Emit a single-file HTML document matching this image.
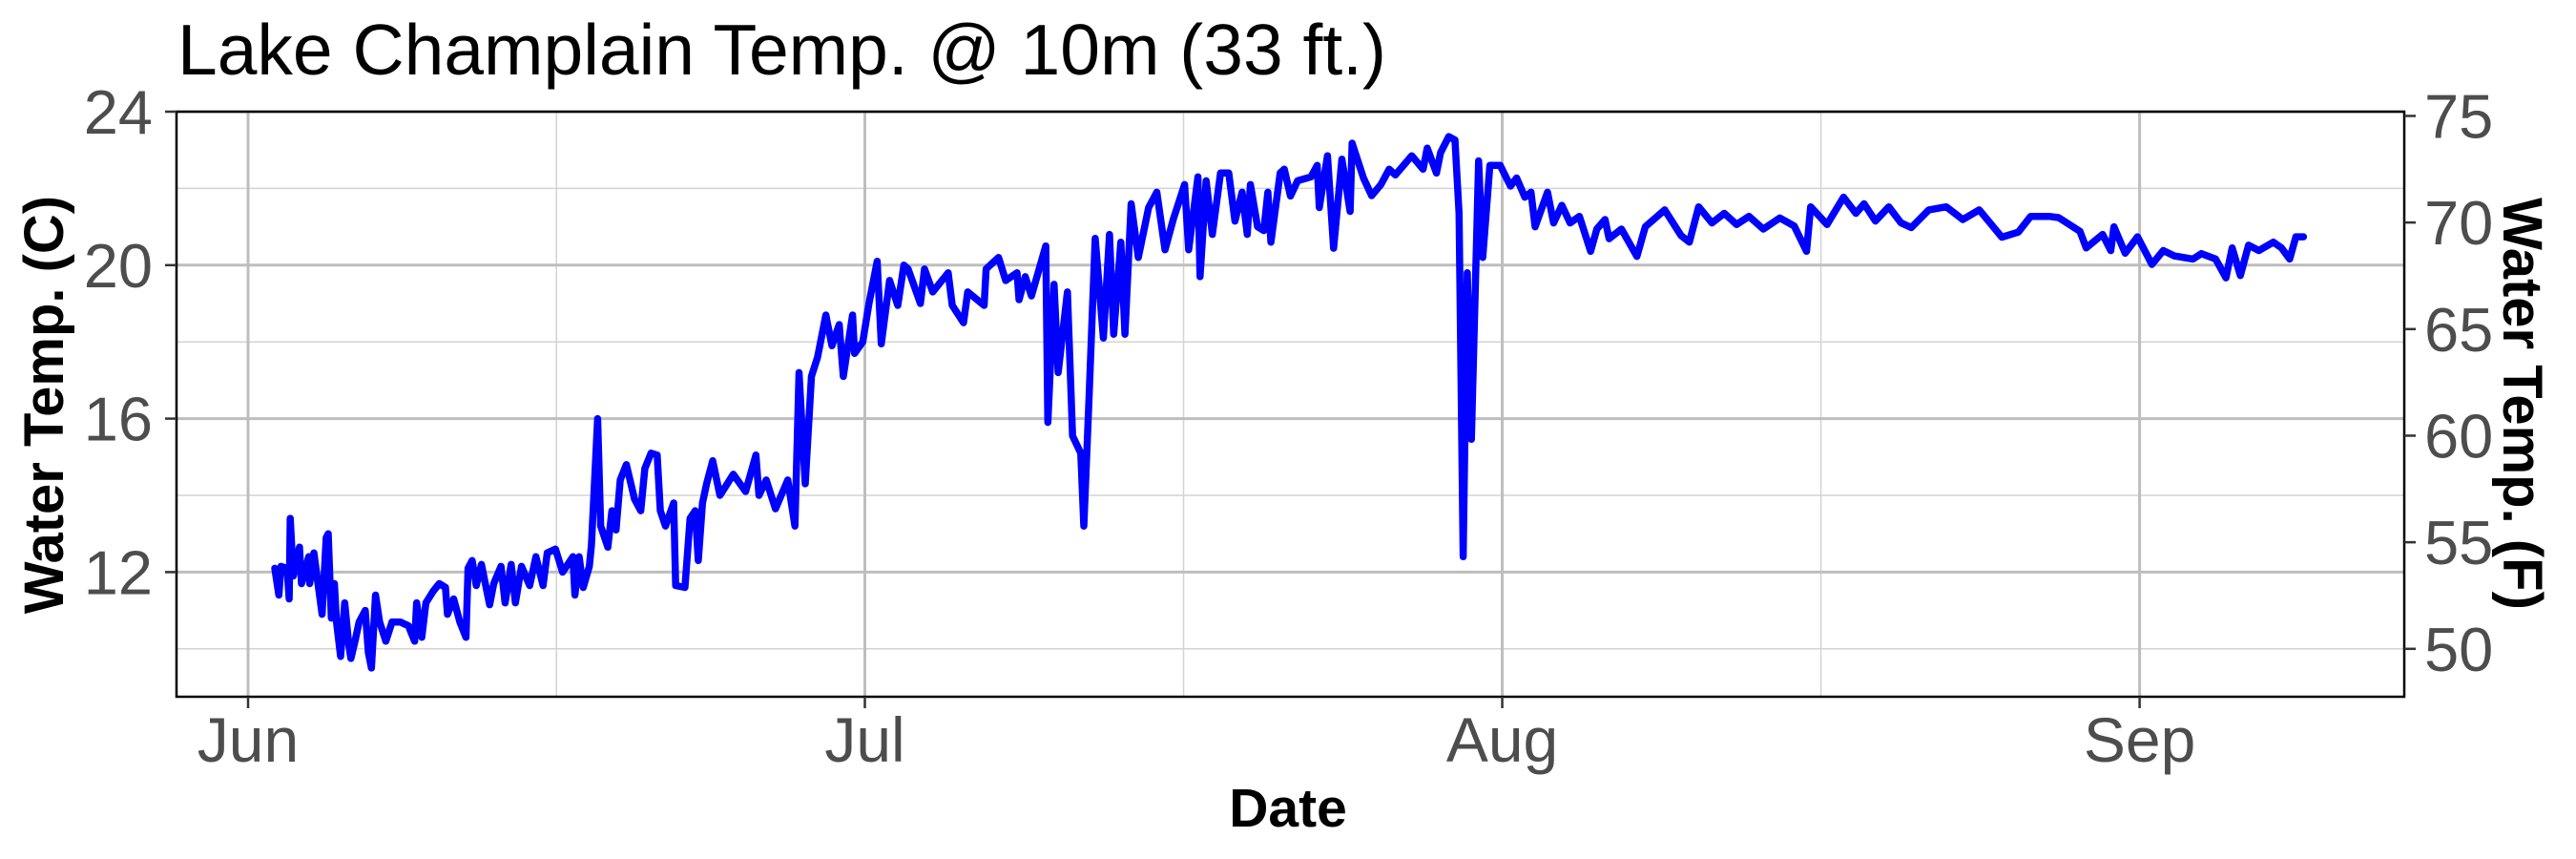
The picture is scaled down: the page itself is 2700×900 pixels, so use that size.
<!DOCTYPE html>
<html><head><meta charset="utf-8">
<style>
html,body{margin:0;padding:0;background:#fff;}
svg{display:block;font-family:"Liberation Sans",Arial,sans-serif;}
</style></head>
<body>
<svg id="chart" width="2700" height="900" viewBox="0 0 2700 900">
  <text x="186" y="78" font-size="75" fill="#000">Lake Champlain Temp. @ 10m (33 ft.)</text>
  <g id="grid"></g>
  <g id="series"></g>
  <rect x="185" y="117" width="2335" height="613" fill="none" stroke="#000" stroke-width="2.5"/>
  <g id="axes"></g>
  <text x="1350" y="866" font-size="57" font-weight="bold" text-anchor="middle" fill="#000">Date</text>
  <text transform="translate(66,424) rotate(-90)" font-size="58" font-weight="bold" text-anchor="middle" fill="#000">Water Temp. (C)</text>
  <text transform="translate(2624,423) rotate(90)" font-size="58" font-weight="bold" text-anchor="middle" fill="#000">Water Temp. (F)</text>
</svg>
<script>
// days since Jun 1
const days = [1.3,1.5,1.6,1.9,2.0,2.05,2.2,2.5,2.6,2.95,3.0,3.2,3.4,3.6,3.8,3.9,4.05,4.2,4.3,4.5,4.7,4.9,5.0,5.2,5.4,5.7,5.85,6.0,6.2,6.4,6.7,7.0,7.4,7.8,8.1,8.2,8.45,8.65,9.0,9.3,9.6,9.7,10.0,10.3,10.6,10.7,10.9,11.1,11.35,11.75,11.95,12.3,12.5,12.8,13.0,13.3,13.7,14.0,14.35,14.55,14.95,15.3,15.8,15.9,16.1,16.3,16.6,16.7,17.0,17.15,17.5,17.7,17.9,18.1,18.4,18.8,19.1,19.3,19.6,19.9,20.05,20.3,20.7,20.8,21.25,21.5,21.75,21.9,22.1,22.3,22.6,22.95,23.6,24.2,24.7,24.85,25.2,25.65,26.25,26.6,26.8,27.1,27.4,27.7,28.1,28.4,28.75,28.95,29.4,29.5,29.9,30.2,30.6,30.8,31.2,31.6,31.9,32.1,32.7,32.9,33.3,34.05,34.25,34.8,35.0,35.8,35.9,36.5,36.85,37.4,37.5,37.8,38.1,38.8,38.9,39.2,39.4,39.85,40.1,40.5,40.65,40.9,41.2,41.6,41.9,42.1,42.45,42.65,42.95,43.3,43.8,44.2,44.6,45.0,45.55,45.75,46.2,46.3,46.6,46.9,47.3,47.7,48.0,48.35,48.6,48.75,49.1,49.4,49.6,49.75,50.2,50.4,50.7,51.05,51.7,52.0,52.1,52.5,52.8,53.2,53.6,53.7,54.25,54.65,55.1,55.5,55.8,56.6,57.15,57.35,57.8,58.0,58.4,58.7,58.9,59.1,59.3,59.5,59.85,60.05,60.4,60.9,61.4,61.7,62.1,62.4,62.6,63.2,63.5,63.9,64.3,64.75,65.3,65.6,66.0,66.2,66.8,67.55,67.96,68.9,69.7,70.1,70.55,71.2,71.8,72.4,73.0,73.7,74.5,75.2,75.8,76.0,76.8,77.6,78.2,78.6,79.15,79.8,80.4,80.9,81.75,82.6,83.4,84.2,85.3,86.1,86.7,87.6,88.06,89.1,89.4,90.2,90.6,90.75,91.3,91.9,92.6,93.15,93.7,94.6,95.0,95.7,96.2,96.5,96.9,97.3,97.8,98.5,98.9,99.3,99.6,99.97];
const temps = [12.1,11.4,12.15,12.1,11.3,13.4,11.9,12.65,11.7,12.4,11.7,12.5,11.7,10.9,12.9,13.0,10.8,11.7,10.7,9.8,11.2,10.1,9.75,10.2,10.7,11.0,9.9,9.5,11.4,10.7,10.2,10.7,10.7,10.6,10.2,11.2,10.3,11.2,11.5,11.7,11.6,10.9,11.3,10.7,10.3,12.1,12.3,11.65,12.2,11.15,11.7,12.15,11.2,12.2,11.2,12.15,11.65,12.4,11.65,12.5,12.6,12.0,12.4,11.4,12.4,11.6,12.15,12.7,16.0,13.2,12.65,13.6,13.1,14.4,14.8,13.9,13.6,14.7,15.1,15.05,13.6,13.2,13.8,11.65,11.6,13.4,13.6,12.3,13.8,14.3,14.9,14.0,14.55,14.1,15.05,14.0,14.4,13.65,14.4,13.2,17.2,14.3,17.1,17.6,18.7,17.9,18.45,17.1,18.7,17.7,18.0,19.0,20.1,17.95,19.6,18.95,20.0,19.9,19.0,19.9,19.3,19.8,18.95,18.5,19.3,18.95,19.9,20.2,19.6,19.8,19.1,19.7,19.2,20.5,15.9,19.5,17.2,19.3,15.55,15.1,13.2,16.5,20.7,18.1,20.8,18.2,20.6,18.2,21.6,20.2,21.5,21.9,20.4,21.2,22.1,20.4,22.3,19.7,22.2,20.8,22.4,22.4,21.15,21.9,20.8,22.1,21.0,20.9,21.9,20.6,22.4,22.5,21.8,22.2,22.3,22.6,21.5,22.85,20.44,22.76,21.4,23.18,22.27,21.81,22.1,22.5,22.35,22.85,22.5,23.05,22.4,22.93,23.35,23.26,21.35,12.4,19.8,15.46,22.72,20.2,22.6,22.6,22.06,22.27,21.77,21.9,21.0,21.9,21.1,21.56,21.1,21.27,20.36,20.94,21.19,20.69,20.94,20.23,21.0,21.44,20.77,20.6,21.52,21.1,21.35,21.06,21.27,20.94,21.23,21.02,20.36,21.52,21.06,21.77,21.35,21.6,21.15,21.52,21.1,20.98,21.44,21.52,21.19,21.44,20.73,20.86,21.27,21.27,21.24,20.88,20.45,20.8,20.38,21.0,20.31,20.74,20.02,20.38,20.24,20.16,20.3,20.16,19.67,20.45,19.73,20.52,20.38,20.6,20.45,20.16,20.74,20.74];
const yTicksC = [12,16,20,24];
const yMinorC = [10,14,18,22];
const yTicksF = [50,55,60,65,70,75];
const xTickLabels = ["Jun","Jul","Aug","Sep"];
const xTickDays = [0,30,61,92];
const xMinorDays = [15,45.5,76.5];

const NS = "http://www.w3.org/2000/svg";
const X0 = 260, PXD = 21.55, Y24 = 117, PXC = 40.2;
const L = 185, R = 2520, T = 117, B = 730;
function xs(d){ return X0 + d*PXD; }
function ys(c){ return Y24 + (24 - c)*PXC; }
function mk(tag, attrs, parent){
  const e = document.createElementNS(NS, tag);
  for (const k in attrs) e.setAttribute(k, attrs[k]);
  parent.appendChild(e); return e;
}
const grid = document.getElementById('grid');
const axes = document.getElementById('axes');
const series = document.getElementById('series');

yMinorC.forEach(v => {
  const l = mk('line', {x1:L, x2:R, y1:ys(v), y2:ys(v), stroke:'#d3d3d3', 'stroke-width':1.5}, grid);
  
  
});
xMinorDays.forEach(v => {
  const l = mk('line', {x1:xs(v), x2:xs(v), y1:T, y2:B, stroke:'#d3d3d3', 'stroke-width':1.5}, grid);
  
  
});
yTicksC.forEach(v => {
  const l = mk('line', {x1:L, x2:R, y1:ys(v), y2:ys(v), stroke:'#bebebe', 'stroke-width':3}, grid);
  
  
  const t = mk('line', {x1:L-12, x2:L, y1:ys(v), y2:ys(v), stroke:'#333', 'stroke-width':2.5}, axes);
  
  
  const tx = mk('text', {x:160, y:ys(v)+23, 'font-size':65, fill:'#4d4d4d', 'text-anchor':'end'}, axes);
  tx.textContent = v;
  
  
});
xTickDays.forEach((d,i) => {
  const l = mk('line', {x1:xs(d), x2:xs(d), y1:T, y2:B, stroke:'#bebebe', 'stroke-width':3}, grid);
  
  
  const t = mk('line', {x1:xs(d), x2:xs(d), y1:B, y2:B+12, stroke:'#333', 'stroke-width':2.5}, axes);
  
  
  const tx = mk('text', {x:xs(d), y:798, 'font-size':66, fill:'#4d4d4d', 'text-anchor':'middle'}, axes);
  tx.textContent = xTickLabels[i];
  
  
});
yTicksF.forEach(f => {
  const c = (f-32)*5/9;
  const t = mk('line', {x1:R, x2:R+12, y1:ys(c), y2:ys(c), stroke:'#333', 'stroke-width':2.5}, axes);
  
  
  const tx = mk('text', {x:2541, y:ys(c)+23, 'font-size':65, fill:'#4d4d4d'}, axes);
  tx.textContent = f;
  
  
});
const pts = days.map((d,i) => xs(d).toFixed(1) + ',' + ys(temps[i]).toFixed(1)).join(' ');
const line = mk('polyline', {points:pts, fill:'none', stroke:'#0000ff', 'stroke-width':7.5, 'stroke-linejoin':'round', 'stroke-linecap':'round'}, series);


</script>
</body></html>
